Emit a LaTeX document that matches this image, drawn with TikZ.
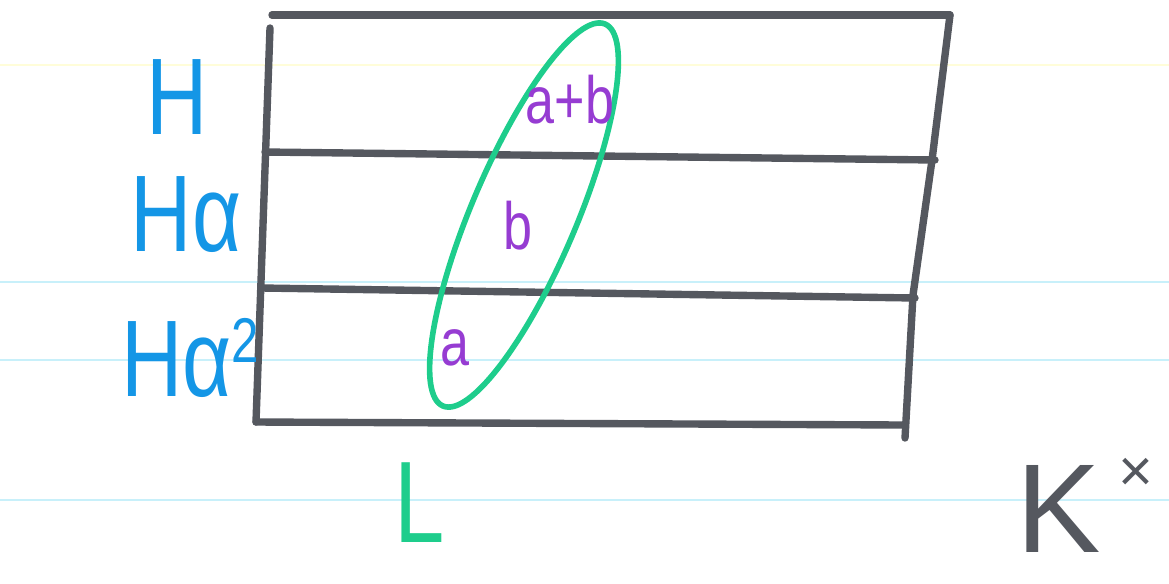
\documentclass[tikz,border=0pt]{standalone}
\usepackage{xcolor}
\usepackage{tikz}
\usepackage{amsmath}
\usepackage{fontspec}
\setsansfont{Liberation Sans}
\newfontfamily\handfont[FakeStretch=0.78]{Liberation Sans}
\definecolor{penblue}{RGB}{20,150,230}
\definecolor{pengreen}{RGB}{30,205,140}
\definecolor{penpurple}{RGB}{150,60,210}
\definecolor{pengray}{RGB}{85,88,95}
\definecolor{ruled}{RGB}{200,240,250}

\begin{document}
\begin{tikzpicture}[
  x=0.02cm, y=-0.02cm,
  grid/.style={draw=pengray, line width=4.2pt, line cap=round},
  loop/.style={draw=pengreen, line width=3.2pt},
  coset/.style={text=penblue, font=\handfont\fontsize{62}{62}\selectfont, inner sep=0pt},
  elem/.style={text=penpurple, font=\handfont\fontsize{38}{38}\selectfont, inner sep=0pt},
  paper/.style={draw=ruled, line width=0.8pt}
]
\useasboundingbox (0,0) rectangle (1169,583);
% ruled paper
\draw[paper, draw=yellow!15] (0,65) -- (1169,65);
\draw[paper] (0,282) -- (1169,282);
\draw[paper] (0,360) -- (1169,360);
\draw[paper] (0,500) -- (1169,500);

% grid of cosets
\coordinate (tl) at (272,15);
\coordinate (tr) at (950,15);
\coordinate (bl) at (256,422);
\coordinate (br) at (905,438);
\draw[grid] (tl) -- (tr);
\draw[grid] (270,28) -- (bl);
\draw[grid] (tr) -- (932,160) -- (913,295) -- (br);
\draw[grid] (265,152) -- (935,160);
\draw[grid] (262,288) -- (915,298);
\draw[grid] (bl) -- (905,425);

% row labels
\node[coset] (h0) at (177,97) {H};
\node[coset] (h1) at (186,215) {Hα};
\node[coset] (h2) at (190,358) {Hα\raisebox{0.6ex}{\fontsize{36}{36}\selectfont 2}};

% the subgroup L
\draw[loop] (524,215) ellipse[x radius=4.15cm, y radius=1.05cm, rotate=67];
\node[elem] (ab) at (570,100) {a+b};
\node[elem] (b) at (518,226) {b};
\node[elem] (a) at (455,348) {a};

\node[text=pengreen, font=\handfont\fontsize{66}{66}\selectfont, inner sep=0pt] (L) at (420,503) {L};
\node[text=pengray, font=\sffamily\fontsize{72}{72}\selectfont, inner sep=0pt, anchor=base west] (K) at (1016,552)
  {K\kern10pt\raisebox{0.9ex}{\fontsize{34}{34}\selectfont ×}};
\end{tikzpicture}
\end{document}
